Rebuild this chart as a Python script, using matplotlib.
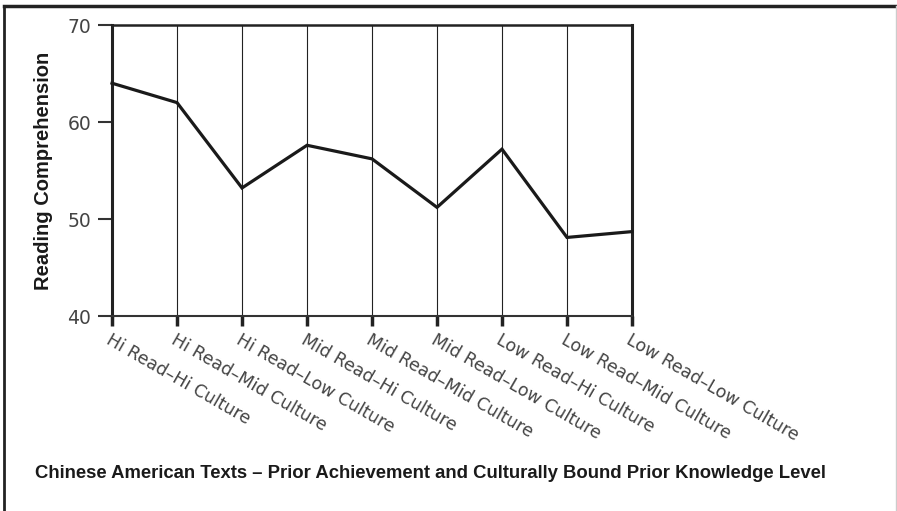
import matplotlib
matplotlib.use("Agg")
import matplotlib.pyplot as plt
from matplotlib.lines import Line2D

categories = ["Hi Read\u2013Hi Culture", "Hi Read\u2013Mid Culture", "Hi Read\u2013Low Culture",
              "Mid Read\u2013Hi Culture", "Mid Read\u2013Mid Culture", "Mid Read\u2013Low Culture",
              "Low Read\u2013Hi Culture", "Low Read\u2013Mid Culture", "Low Read\u2013Low Culture"]
values = [64.0, 62.0, 53.2, 57.6, 56.2, 51.2, 57.2, 48.1, 48.7]
yticks = [40, 50, 60, 70]

cond = ['Liberation Sans Narrow', 'Liberation Sans', 'DejaVu Sans']

fig = plt.figure(figsize=(8.97, 5.11), dpi=100)
ax = fig.add_axes([112/897, 1-316/511, 520/897, 291/511])

x = list(range(len(categories)))
ax.plot(x, values, color='#1a1a1a', lw=2.3, solid_joinstyle='miter', zorder=3, clip_on=False)
for xi in x:
    ax.axvline(xi, color='#222222', lw=0.8, zorder=1)

ax.set_xlim(0, len(categories)-1)
ax.set_ylim(40, 70)
ax.set_yticks(yticks)
ax.set_yticklabels([str(v) for v in yticks], fontsize=13.5, color='#444444')
ax.set_xticks(x)
ax.set_xticklabels(categories, rotation=-30, ha='left', va='top', rotation_mode='anchor',
                   fontsize=12.5, color='#444444')
ax.tick_params(axis='y', length=10, width=1.5, color='#333333', pad=5)
ax.tick_params(axis='x', length=7, width=2.5, color='#222222', pad=4)

for s in ['left', 'right']:
    ax.spines[s].set_linewidth(2.2)
    ax.spines[s].set_color('#222222')
ax.spines['top'].set_linewidth(1.8)
ax.spines['top'].set_color('#222222')
ax.spines['bottom'].set_linewidth(1.5)
ax.spines['bottom'].set_color('#333333')

ax.set_ylabel("Reading Comprehension", family=cond, fontweight='bold', fontsize=14.5,
              color='#1a1a1a')
ax.yaxis.set_label_coords(-0.113, 0.5)

fig.text(35/897, 1-473/511, "Chinese American Texts \u2013 Prior Achievement and Culturally Bound Prior Knowledge Level",
         family=cond, fontweight='bold', fontsize=13.3, color='#1a1a1a', ha='left', va='center')

# outer frame
fig.add_artist(Line2D([4/897, 4/897], [0, 1-6/511], transform=fig.transFigure, color='#222222', lw=2))
fig.add_artist(Line2D([4/897, 1], [1-6/511, 1-6/511], transform=fig.transFigure, color='#222222', lw=2.5))
fig.add_artist(Line2D([896/897, 896/897], [0, 1-6/511], transform=fig.transFigure, color='#cccccc', lw=1))

fig.savefig("out.png", dpi=100)
